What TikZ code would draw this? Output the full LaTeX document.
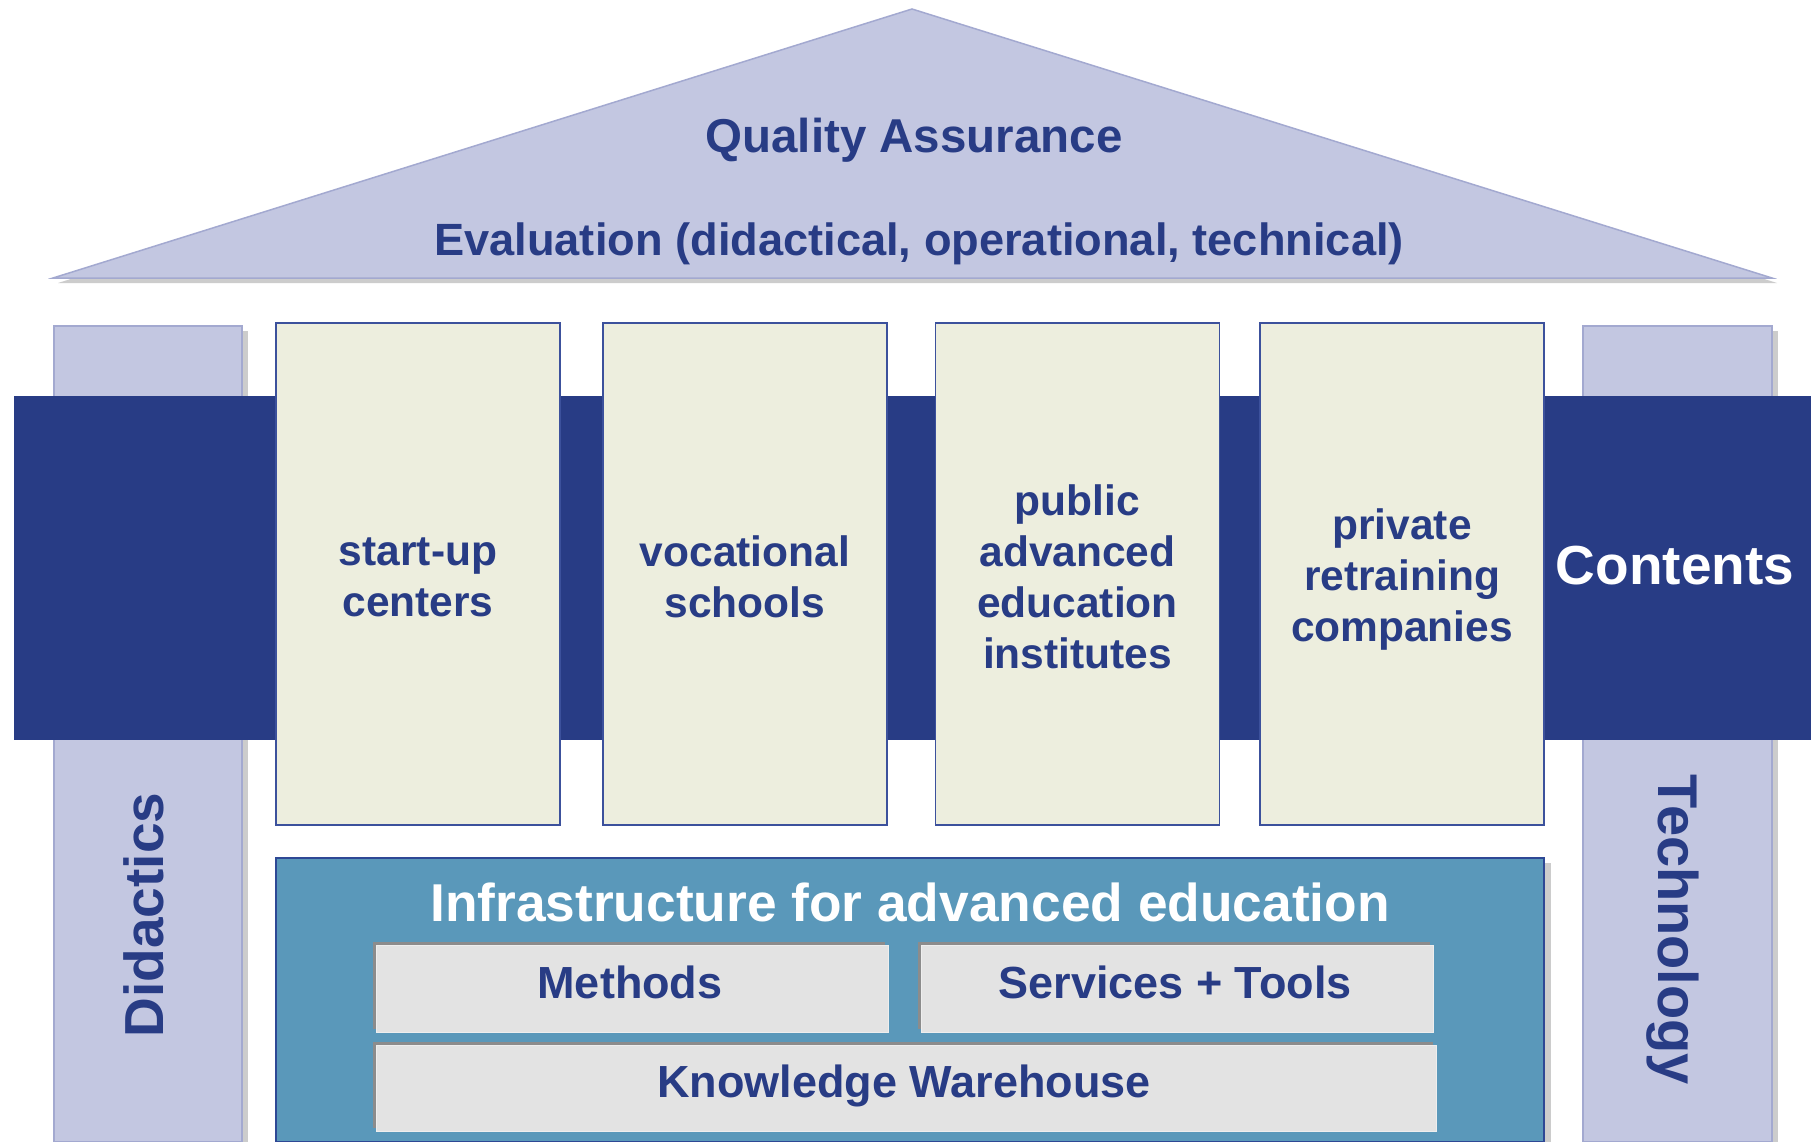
\documentclass[tikz,border=0pt]{standalone}
\usepackage{fontspec}
\setmainfont{Liberation Sans}
\usetikzlibrary{shadows}
\definecolor{navy}{HTML}{283C85}
\definecolor{lav}{HTML}{C3C7E1}
\definecolor{lavline}{HTML}{A3A9D0}
\definecolor{cream}{HTML}{EDEEDE}
\definecolor{creamline}{HTML}{3C519C}
\definecolor{infra}{HTML}{5A98BA}
\definecolor{infraline}{HTML}{2E4895}
\definecolor{inset}{HTML}{E3E3E3}
\definecolor{insetdark}{HTML}{8C8C8C}
\definecolor{shadowgray}{HTML}{CCCCCC}
\begin{document}
\begin{tikzpicture}[x=1pt,y=-1pt,
  every node/.style={inner sep=0pt, outer sep=0pt},
  pillar/.style={draw=lavline, fill=lav, line width=1.5pt, minimum width=188pt, minimum height=816pt,
    general shadow={fill=shadowgray, shadow xshift=6pt, shadow yshift=-5pt}},
  creambox/.style={draw=creamline, fill=cream, line width=1.5pt, minimum width=284pt, minimum height=502pt},
  insetbox/.style={fill=inset, draw=inset!60!white, line width=1pt,
    general shadow={fill=insetdark, shadow xshift=-3pt, shadow yshift=3pt}},
  lbl/.style={text=navy, font=\bfseries\fontsize{42.5}{51}\selectfont, align=center},
  roofttxt/.style={text=navy, font=\bfseries\fontsize{46}{55}\selectfont, anchor=base},
  subtxt/.style={text=navy, font=\bfseries\fontsize{45}{54}\selectfont, anchor=base},
  bigtxt/.style={font=\bfseries\fontsize{55}{66}\selectfont, anchor=base}
]
\useasboundingbox (0,0) rectangle (1811,1142);
\fill[white] (0,0) rectangle (1811,1142);

% roof
\coordinate (apex) at (912,9);
\coordinate (rl) at (53,278);
\coordinate (rr) at (1772,278);
\fill[shadowgray] ([shift={(5,5)}]rl) -- ([shift={(5,5)}]apex) -- ([shift={(5,5)}]rr) -- cycle;
\draw[draw=lavline, fill=lav, line width=1.5pt, line join=miter] (rl) -- (apex) -- (rr) -- cycle;
\node[roofttxt, font=\bfseries\fontsize{47.5}{57}\selectfont] (qa) at (914,153) {Quality Assurance};
\node[roofttxt, font=\bfseries\fontsize{45.2}{54}\selectfont] (ev) at (919,255) {Evaluation (didactical, operational, technical)};

% pillars
\node[pillar] (didp) at (148,734) {};
\node[pillar, minimum width=189pt] (tecp) at (1677.5,734) {};

% band
\node[fill=navy, minimum width=1797pt, minimum height=344pt] (band) at (912.5,568) {};

% institution boxes
\node[creambox] (b1) at (418,574) {};
\node[creambox] (b2) at (745,574) {};
\node[creambox] (b3) at (1077.5,574) {};
\node[creambox] (b4) at (1402,574) {};
\node[lbl] (t1) at (418,577) {start-up\\centers};
\node[lbl] (t2) at (745,577) {vocational\\schools};
\node[lbl] (t3) at (1077.5,577) {public\\advanced\\education\\institutes};
\node[lbl] (t4) at (1402,580) {private\\retraining\\companies};

\node[bigtxt, text=white] (cont) at (1675,584) {Contents};

% pillar labels
\node[bigtxt, text=navy, rotate=90] (did) at (163,915) {Didactics};
\node[bigtxt, text=navy, rotate=-90, font=\bfseries\fontsize{56}{66}\selectfont] (tec) at (1658,930) {Technology};

% infrastructure
\node[draw=infraline, fill=infra, line width=1.5pt, minimum width=1268pt, minimum height=284pt,
  general shadow={fill=shadowgray, shadow xshift=7pt, shadow yshift=-5pt}] (inf) at (910,1000) {};
\node[bigtxt, text=white, font=\bfseries\fontsize{53.3}{64}\selectfont] (inft) at (910,921) {Infrastructure for advanced education};

\node[insetbox, minimum width=512pt, minimum height=87pt] (meth) at (632,988.5) {};
\node[insetbox, minimum width=512pt, minimum height=87pt] (serv) at (1177,988.5) {};
\node[insetbox, minimum width=1060pt, minimum height=86pt] (know) at (906,1088) {};
\node[subtxt] (metht) at (630,998) {Methods};
\node[subtxt] (servt) at (1175,998) {Services + Tools};
\node[subtxt] (knowt) at (904,1097) {Knowledge Warehouse};
\end{tikzpicture}
\end{document}
